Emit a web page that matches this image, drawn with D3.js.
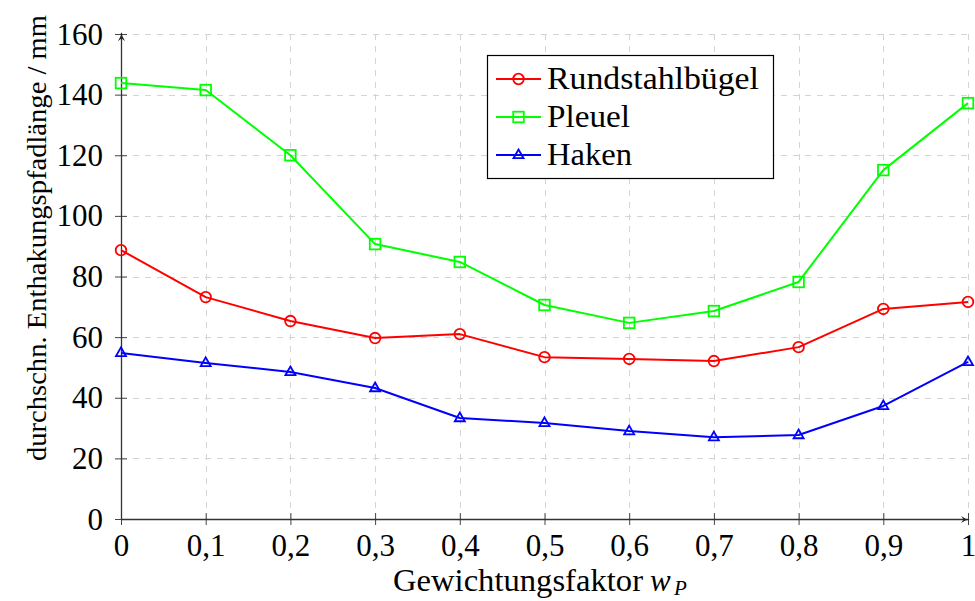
<!DOCTYPE html>
<html>
<head>
<meta charset="utf-8">
<script src="https://cdn.jsdelivr.net/npm/d3@7"></script>
<style>
  html, body { margin: 0; padding: 0; background: #fff; }
  svg { display: block; }
  text { font-family: "Liberation Serif", "DejaVu Serif", serif; fill: #000; }
</style>
</head>
<body>
<svg id="chart" width="975" height="601"></svg>
<script>
// ---- Data ----
const weights = [0, 0.1, 0.2, 0.3, 0.4, 0.5, 0.6, 0.7, 0.8, 0.9, 1];
const rundstahlbuegel = [88.7, 73.2, 65.3, 59.7, 61.0, 53.4, 52.8, 52.1, 56.7, 69.3, 71.6];
const pleuel = [143.8, 141.5, 120.0, 90.7, 84.8, 70.6, 64.7, 68.6, 78.2, 115.1, 137.2];
const haken = [54.8, 51.5, 48.5, 43.2, 33.3, 31.7, 29.0, 27.0, 27.7, 37.3, 51.8];
const seriesNames = ["Rundstahlbügel", "Pleuel", "Haken"];
const seriesColors = ["#ff0000", "#00ff00", "#0000ff"];
const seriesMarks = ["circle", "square", "triangle"];
const xTicks = [0, 0.1, 0.2, 0.3, 0.4, 0.5, 0.6, 0.7, 0.8, 0.9, 1];
const xTickLabels = ["0", "0,1", "0,2", "0,3", "0,4", "0,5", "0,6", "0,7", "0,8", "0,9", "1"];
const yTicks = [0, 20, 40, 60, 80, 100, 120, 140, 160];
const yTickLabels = ["0", "20", "40", "60", "80", "100", "120", "140", "160"];
const xTitle = "Gewichtungsfaktor";
const xTitleVar = "w";
const xTitleSub = "P";
const yTitle = "durchschn. Enthakungspfadlänge / mm";

const seriesValues = [rundstahlbuegel, pleuel, haken];

// ---- Layout ----
const svg = d3.select("#chart");
const mLeft = 121, mRight = 968, mTop = 34, mBottom = 519;
const x = d3.scaleLinear().domain([0, 1]).range([mLeft, mRight]);
const y = d3.scaleLinear().domain([0, 160]).range([mBottom, mTop]);

// Grid
const grid = svg.append("g").attr("stroke", "#d4d4d4").attr("stroke-width", 1)
  .attr("stroke-dasharray", "6,6").attr("fill", "none");
grid.selectAll("line.v").data(xTicks).join("line").attr("class", "v")
  .attr("x1", d => Math.round(x(d)) + 0.5).attr("x2", d => Math.round(x(d)) + 0.5)
  .attr("y1", y(160)).attr("y2", y(0));
grid.selectAll("line.h").data(yTicks).join("line").attr("class", "h")
  .attr("y1", d => Math.round(y(d)) + 0.5).attr("y2", d => Math.round(y(d)) + 0.5)
  .attr("x1", x(0)).attr("x2", x(1));

// Axes using d3 axis generators
const xAxis = d3.axisBottom(x).tickValues(xTicks)
  .tickFormat((d, i) => xTickLabels[i]).tickSizeInner(6).tickSizeOuter(0).tickPadding(14);
const yAxis = d3.axisLeft(y).tickValues(yTicks)
  .tickFormat((d, i) => yTickLabels[i]).tickSizeInner(6).tickSizeOuter(0).tickPadding(14);

const gx = svg.append("g").attr("transform", `translate(0,${mBottom})`).call(xAxis);
const gy = svg.append("g").attr("transform", `translate(${mLeft},0)`).call(yAxis);
[gx, gy].forEach(g => {
  g.select(".domain").remove();
  g.selectAll(".tick line").attr("stroke", "#444").attr("stroke-width", 1);
  g.selectAll(".tick text").attr("font-family", "'Liberation Serif', serif")
    .attr("font-size", 31).attr("fill", "#000");
});
// ticks crossing the axis
gx.selectAll(".tick line").attr("y1", -6).attr("y2", 6);
gy.selectAll(".tick line").attr("x1", -6).attr("x2", 6);
gx.selectAll(".tick text").attr("dy", null).attr("y", 37);
gy.selectAll(".tick text").attr("dy", null).attr("y", 10).attr("x", -18);

// Axis lines with arrows
const defs = svg.append("defs");
defs.append("marker").attr("id", "arrow").attr("viewBox", "0 0 10 10")
  .attr("refX", 9).attr("refY", 5).attr("markerWidth", 9).attr("markerHeight", 9)
  .attr("markerUnits", "userSpaceOnUse").attr("orient", "auto")
  .append("path").attr("d", "M0,1 Q5,5 10,5 Q5,5 0,9 L3,5 Z").attr("fill", "#222");

svg.append("line").attr("x1", x(0)).attr("x2", x(1) + 1)
  .attr("y1", y(0) + 0.5).attr("y2", y(0) + 0.5)
  .attr("stroke", "#333").attr("stroke-width", 1.3).attr("marker-end", "url(#arrow)");
svg.append("line").attr("x1", x(0) + 0.5).attr("x2", x(0) + 0.5)
  .attr("y1", y(0)).attr("y2", y(160) - 1)
  .attr("stroke", "#333").attr("stroke-width", 1.3).attr("marker-end", "url(#arrow)");

// Marker drawing
function drawMark(g, type, color) {
  if (type === "circle") {
    g.append("circle").attr("r", 5.3).attr("fill", "none").attr("stroke", color).attr("stroke-width", 1.8);
  } else if (type === "square") {
    g.append("rect").attr("x", -5.3).attr("y", -5.3).attr("width", 10.6).attr("height", 10.6)
      .attr("fill", "none").attr("stroke", color).attr("stroke-width", 1.8);
  } else {
    g.append("path").attr("d", "M0,-5.5 L5,3.2 L-5,3.2 Z")
      .attr("fill", "none").attr("stroke", color).attr("stroke-width", 1.8);
  }
}

// Lines
const line = d3.line().x((d, i) => x(weights[i])).y(d => y(d));
seriesValues.forEach((vals, s) => {
  svg.append("path").datum(vals).attr("d", line)
    .attr("fill", "none").attr("stroke", seriesColors[s]).attr("stroke-width", 2)
    .attr("stroke-linejoin", "round");
  const mg = svg.append("g");
  vals.forEach((v, i) => {
    const g = mg.append("g").attr("transform", `translate(${x(weights[i])},${y(v)})`);
    drawMark(g, seriesMarks[s], seriesColors[s]);
  });
});

// Legend
const lg = svg.append("g");
lg.append("rect").attr("x", 487.5).attr("y", 55.5).attr("width", 286).attr("height", 123)
  .attr("fill", "#fff").attr("stroke", "#000").attr("stroke-width", 1.2);
const legendY = [79, 117, 155];
const legendTextLen = [212, 83, 85];
seriesNames.forEach((name, s) => {
  const ly = legendY[s];
  lg.append("line").attr("x1", 496).attr("x2", 541).attr("y1", ly).attr("y2", ly)
    .attr("stroke", seriesColors[s]).attr("stroke-width", 2);
  const g = lg.append("g").attr("transform", `translate(518.5,${ly})`);
  drawMark(g, seriesMarks[s], seriesColors[s]);
  lg.append("text").attr("x", 547).attr("y", ly + 9.5).attr("font-size", 31)
    .attr("textLength", legendTextLen[s]).attr("lengthAdjust", "spacingAndGlyphs").text(name);
});

// Axis titles
svg.append("text").attr("x", 393).attr("y", 591).attr("font-size", 31)
  .attr("textLength", 250).attr("lengthAdjust", "spacingAndGlyphs").text(xTitle);
svg.append("text").attr("x", 650).attr("y", 591).attr("font-size", 31)
  .attr("font-style", "italic").text(xTitleVar);
svg.append("text").attr("x", 674).attr("y", 595).attr("font-size", 21)
  .attr("font-style", "italic").text(xTitleSub);

svg.append("text").attr("transform", `translate(46,238) rotate(-90)`)
  .attr("text-anchor", "middle").attr("font-size", 28)
  .attr("textLength", 446).attr("lengthAdjust", "spacingAndGlyphs").text(yTitle);
</script>
</body>
</html>
